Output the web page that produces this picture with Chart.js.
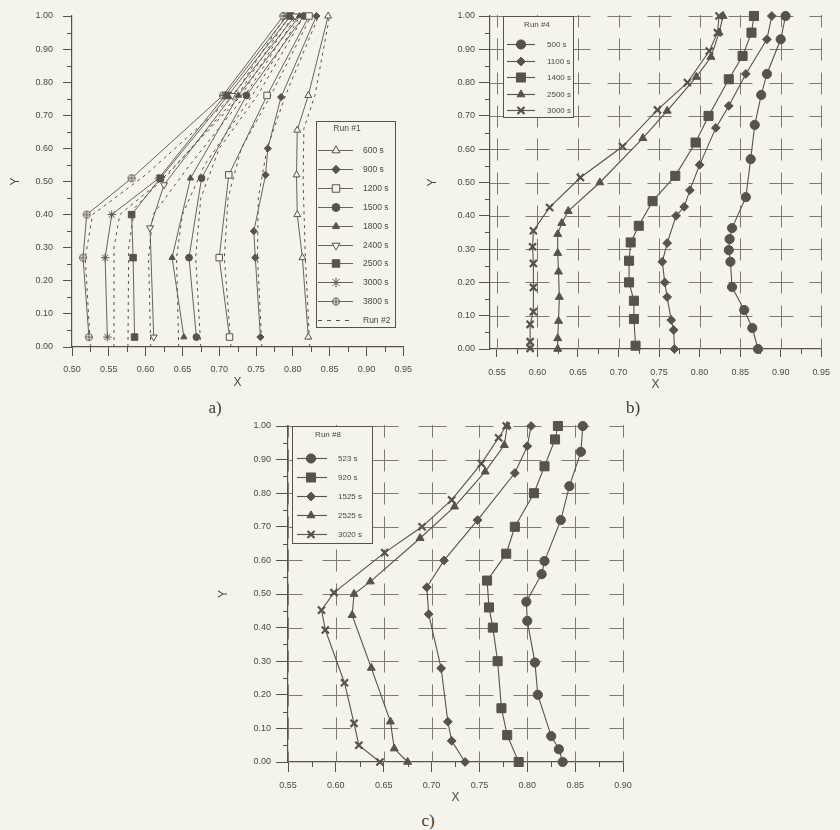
<!DOCTYPE html>
<html>
<head>
<meta charset="utf-8">
<script src="https://cdn.jsdelivr.net/npm/chart.js@4.4.0/dist/chart.umd.min.js"></script>
<style>
  body { margin: 0; background: #f4f4ec; width: 840px; height: 830px; position: relative; overflow: hidden; }
  canvas { position: absolute; }
  .cap { position: absolute; font-family: "Liberation Serif", "DejaVu Serif", serif; font-size: 17px; color: #3a3834; transform: translate(-50%, -50%); }
</style>
</head>
<body>
<canvas id="chartA" width="420" height="400" style="left:0;top:0"></canvas>
<canvas id="chartB" width="420" height="400" style="left:420px;top:0"></canvas>
<canvas id="chartC" width="430" height="400" style="left:210px;top:410px"></canvas>
<div class="cap" style="left:215px;top:408px">a)</div>
<div class="cap" style="left:633px;top:408px">b)</div>
<div class="cap" style="left:428px;top:821px">c)</div>
<script>
const INK = '#56534c';
const TXT = '#4b4843';
const BG = '#f4f4ec';
const FONT = '"Liberation Sans", Arial, sans-serif';

// tick values
const yTicks = [0, 0.1, 0.2, 0.3, 0.4, 0.5, 0.6, 0.7, 0.8, 0.9, 1.0];
const xTicksA = [0.50, 0.55, 0.60, 0.65, 0.70, 0.75, 0.80, 0.85, 0.90, 0.95];
const xTicksB = [0.55, 0.60, 0.65, 0.70, 0.75, 0.80, 0.85, 0.90, 0.95];
const xTicksC = [0.55, 0.60, 0.65, 0.70, 0.75, 0.80, 0.85, 0.90];

// Run #1 (panel a), points as [X, Y]
const labelsA = ['600 s', '900 s', '1200 s', '1500 s', '1800 s', '2400 s', '2500 s', '3000 s', '3800 s'];
const a600  = [[0.821,0.03],[0.813,0.27],[0.806,0.40],[0.805,0.52],[0.806,0.655],[0.821,0.76],[0.848,1.00]];
const a900  = [[0.756,0.03],[0.749,0.27],[0.747,0.35],[0.763,0.52],[0.766,0.60],[0.784,0.755],[0.832,1.00]];
const a1200 = [[0.714,0.03],[0.700,0.27],[0.713,0.52],[0.765,0.76],[0.822,1.00]];
const a1500 = [[0.669,0.03],[0.659,0.27],[0.676,0.51],[0.737,0.76],[0.815,1.00]];
const a1800 = [[0.652,0.03],[0.636,0.27],[0.661,0.51],[0.726,0.76],[0.809,1.00]];
const a2400 = [[0.611,0.03],[0.606,0.36],[0.625,0.49],[0.718,0.76],[0.803,1.00]];
const a2500 = [[0.585,0.03],[0.583,0.27],[0.581,0.40],[0.620,0.51],[0.712,0.76],[0.797,1.00]];
const a3000 = [[0.548,0.03],[0.545,0.27],[0.554,0.40],[0.618,0.51],[0.708,0.76],[0.792,1.00]];
const a3800 = [[0.523,0.03],[0.515,0.27],[0.520,0.40],[0.581,0.51],[0.705,0.76],[0.787,1.00]];

// Run #2 (dashed, panel a)
const r2a = [[0.525,0.00],[0.518,0.27],[0.528,0.40],[0.600,0.52],[0.720,0.76],[0.790,1.00]];
const r2b = [[0.557,0.00],[0.557,0.30],[0.565,0.40],[0.630,0.52],[0.725,0.76],[0.795,1.00]];
const r2c = [[0.576,0.00],[0.577,0.30],[0.585,0.42],[0.645,0.56],[0.730,0.76],[0.800,1.00]];
const r2d = [[0.607,0.00],[0.604,0.27],[0.610,0.40],[0.660,0.55],[0.735,0.76],[0.805,1.00]];
const r2e = [[0.645,0.00],[0.642,0.27],[0.650,0.40],[0.680,0.55],[0.745,0.76],[0.810,1.00]];
const r2f = [[0.675,0.00],[0.668,0.27],[0.675,0.45],[0.700,0.60],[0.752,0.76],[0.815,1.00]];
const r2g = [[0.716,0.00],[0.707,0.27],[0.712,0.45],[0.730,0.60],[0.770,0.76],[0.825,1.00]];
const r2h = [[0.758,0.00],[0.752,0.27],[0.753,0.45],[0.765,0.60],[0.790,0.76],[0.835,1.00]];
const r2i = [[0.823,0.00],[0.817,0.27],[0.814,0.50],[0.815,0.66],[0.830,0.76],[0.850,1.00]];

// Run #4 (panel b)
const labelsB = ['500 s', '1100 s', '1400 s', '2500 s', '3000 s'];
const b500  = [[0.872,0.00],[0.865,0.063],[0.855,0.117],[0.840,0.186],[0.838,0.262],[0.836,0.297],[0.837,0.330],[0.840,0.363],[0.857,0.456],[0.863,0.57],[0.868,0.673],[0.876,0.763],[0.883,0.826],[0.900,0.93],[0.906,1.00]];
const b1100 = [[0.769,0.00],[0.768,0.057],[0.765,0.087],[0.760,0.156],[0.757,0.200],[0.754,0.262],[0.760,0.318],[0.771,0.40],[0.781,0.427],[0.788,0.477],[0.800,0.553],[0.820,0.664],[0.836,0.73],[0.857,0.826],[0.883,0.93],[0.889,1.00]];
const b1400 = [[0.721,0.01],[0.719,0.09],[0.719,0.145],[0.713,0.20],[0.713,0.265],[0.715,0.32],[0.725,0.37],[0.742,0.444],[0.770,0.52],[0.795,0.62],[0.811,0.70],[0.836,0.81],[0.853,0.88],[0.864,0.95],[0.867,1.00]];
const b2500 = [[0.625,0.00],[0.625,0.032],[0.626,0.084],[0.627,0.156],[0.626,0.232],[0.625,0.288],[0.625,0.345],[0.630,0.378],[0.638,0.414],[0.677,0.50],[0.730,0.633],[0.760,0.715],[0.796,0.817],[0.814,0.877],[0.824,0.95],[0.829,1.00]];
const b3000 = [[0.591,0.002],[0.591,0.022],[0.591,0.074],[0.595,0.112],[0.595,0.185],[0.595,0.257],[0.594,0.307],[0.595,0.355],[0.615,0.425],[0.653,0.515],[0.705,0.608],[0.748,0.718],[0.785,0.80],[0.812,0.895],[0.822,0.95],[0.824,1.00]];

// Run #8 (panel c)
const labelsC = ['523 s', '920 s', '1525 s', '2525 s', '3020 s'];
const c523  = [[0.837,0.00],[0.833,0.038],[0.825,0.077],[0.811,0.20],[0.808,0.296],[0.800,0.42],[0.799,0.477],[0.815,0.559],[0.818,0.598],[0.835,0.72],[0.844,0.821],[0.856,0.923],[0.858,1.00]];
const c920  = [[0.791,0.00],[0.779,0.08],[0.773,0.16],[0.769,0.30],[0.764,0.40],[0.760,0.46],[0.758,0.54],[0.778,0.62],[0.787,0.70],[0.807,0.80],[0.818,0.88],[0.829,0.96],[0.832,1.00]];
const c1525 = [[0.735,0.00],[0.721,0.063],[0.717,0.12],[0.710,0.279],[0.697,0.44],[0.695,0.52],[0.713,0.60],[0.748,0.72],[0.787,0.86],[0.800,0.94],[0.804,1.00]];
const c2525 = [[0.675,0.00],[0.661,0.04],[0.657,0.12],[0.637,0.28],[0.617,0.437],[0.619,0.50],[0.636,0.537],[0.688,0.666],[0.724,0.76],[0.756,0.864],[0.776,0.943],[0.779,1.00]];
const c3020 = [[0.646,0.00],[0.624,0.05],[0.619,0.115],[0.609,0.236],[0.589,0.393],[0.585,0.452],[0.598,0.504],[0.651,0.623],[0.690,0.70],[0.721,0.78],[0.752,0.888],[0.770,0.965],[0.778,1.00]];

function crossCircle(r) {
  const s = Math.ceil(r * 2 + 3);
  const c = document.createElement('canvas');
  c.width = c.height = s;
  const g = c.getContext('2d');
  const m = s / 2;
  g.strokeStyle = INK; g.lineWidth = 1; g.fillStyle = BG;
  g.beginPath(); g.arc(m, m, r, 0, Math.PI * 2); g.fill(); g.stroke();
  g.beginPath(); g.moveTo(m - r, m); g.lineTo(m + r, m); g.moveTo(m, m - r); g.lineTo(m, m + r); g.stroke();
  return c;
}

function ser(label, pts, style) {
  return Object.assign({
    label: label,
    data: pts.map(p => ({ x: p[0], y: p[1] })),
    showLine: true,
    borderColor: INK,
    borderWidth: 1.1,
    pointBackgroundColor: INK,
    pointBorderColor: INK,
    pointBorderWidth: 1,
    pointRadius: 4.2,
    pointHoverRadius: 4.2,
    tension: 0,
    clip: 10
  }, style);
}

function dashed(pts, first) {
  return ser('Run #2', pts, { borderDash: [3, 4], borderWidth: 1, pointRadius: 0, legendHide: !first });
}

// minor ticks, cross grid and the inside legend
const decor = {
  id: 'decor',
  beforeDatasetsDraw(chart, args, o) {
    if (!o.cross) return;
    const { ctx, chartArea: ca, scales: { x, y } } = chart;
    ctx.save();
    ctx.beginPath(); ctx.rect(ca.left, ca.top - 1, ca.right - ca.left + 1, ca.bottom - ca.top + 1); ctx.clip();
    ctx.strokeStyle = '#7d7a73'; ctx.lineWidth = 1;
    ctx.beginPath();
    o.xTicks.forEach(xv => {
      const px = Math.round(x.getPixelForValue(xv)) + 0.5;
      yTicks.forEach(yv => {
        const py = Math.round(y.getPixelForValue(yv)) + 0.5;
        ctx.moveTo(px - o.cross[0], py); ctx.lineTo(px + o.cross[0], py);
        ctx.moveTo(px, py - o.cross[1]); ctx.lineTo(px, py + o.cross[1]);
      });
    });
    ctx.stroke();
    ctx.restore();
  },
  afterDraw(chart, args, o) {
    const { ctx, chartArea: ca, scales: { x, y } } = chart;
    ctx.save();
    ctx.strokeStyle = INK; ctx.lineWidth = 1;
    ctx.beginPath();
    for (let i = 0; i < o.xTicks.length - 1; i++) {
      const px = Math.round(x.getPixelForValue((o.xTicks[i] + o.xTicks[i + 1]) / 2)) + 0.5;
      ctx.moveTo(px, ca.bottom); ctx.lineTo(px, ca.bottom + 5);
    }
    for (let i = 0; i < yTicks.length - 1; i++) {
      const py = Math.round(y.getPixelForValue((yTicks[i] + yTicks[i + 1]) / 2)) + 0.5;
      ctx.moveTo(ca.left, py); ctx.lineTo(ca.left - 5, py);
    }
    ctx.stroke();

    const L = o.legend;
    const [bx, by, bw, bh] = L.box;
    ctx.fillStyle = BG; ctx.fillRect(bx, by, bw, bh);
    ctx.strokeStyle = INK; ctx.lineWidth = 1; ctx.strokeRect(bx + 0.5, by + 0.5, bw, bh);
    ctx.fillStyle = TXT; ctx.font = L.font + 'px ' + FONT;
    ctx.textAlign = 'center'; ctx.textBaseline = 'middle';
    ctx.fillText(L.title, L.titleX, L.titleY);
    let row = 0;
    chart.data.datasets.forEach(d => {
      if (d.legendHide) return;
      const yy = Math.round(L.rowY + row * L.rowStep) + 0.5;
      row++;
      ctx.strokeStyle = d.borderColor; ctx.lineWidth = d.borderWidth;
      ctx.setLineDash(d.borderDash ? [4, 5] : []);
      ctx.beginPath(); ctx.moveTo(L.lineX[0], yy); ctx.lineTo(L.lineX[1], yy); ctx.stroke();
      ctx.setLineDash([]);
      if (d.pointRadius > 0 && Chart.helpers && Chart.helpers.drawPoint) {
        ctx.fillStyle = d.pointBackgroundColor; ctx.strokeStyle = d.pointBorderColor;
        ctx.lineWidth = d.pointBorderWidth;
        Chart.helpers.drawPoint(ctx, { pointStyle: d.pointStyle || 'circle', rotation: d.rotation || 0, radius: (L.markScale || 1) * d.pointRadius, borderWidth: d.pointBorderWidth }, L.markX, yy);
      }
      ctx.fillStyle = TXT; ctx.textAlign = 'left';
      ctx.fillText(d.label, L.textX, yy);
    });
    ctx.restore();
  }
};

function xScale(ticks, min, max, h, tickLen, pad, titlePad) {
  return {
    type: 'linear', min: min, max: max,
    afterBuildTicks: s => { s.ticks = ticks.map(v => ({ value: v })); },
    afterFit: s => { s.height = h; },
    grid: { drawOnChartArea: false, drawTicks: true, tickLength: tickLen, tickColor: INK, tickWidth: 1 },
    border: { color: INK, width: 1.2 },
    ticks: { padding: pad, color: TXT, autoSkip: false, maxRotation: 0, font: { family: FONT, size: 9 }, callback: v => v.toFixed(2) },
    title: { display: true, text: 'X', color: TXT, font: { family: FONT, size: 12 }, padding: { top: 0, bottom: titlePad } }
  };
}

function yScale(w, tickLen, pad, titlePad) {
  return {
    type: 'linear', min: 0, max: 1,
    afterBuildTicks: s => { s.ticks = yTicks.map(v => ({ value: v })); },
    afterFit: s => { s.width = w; },
    grid: { drawOnChartArea: false, drawTicks: true, tickLength: tickLen, tickColor: INK, tickWidth: 1 },
    border: { color: INK, width: 1.2 },
    ticks: { padding: pad, color: TXT, autoSkip: false, font: { family: FONT, size: 9 }, callback: v => v.toFixed(2) },
    title: { display: true, text: 'Y', color: TXT, font: { family: FONT, size: 12 }, padding: { top: titlePad, bottom: 0 } }
  };
}

function baseOptions(pad, xs, ys, decorOpts) {
  return {
    responsive: false,
    animation: false,
    events: [],
    layout: { padding: pad },
    plugins: { legend: { display: false }, tooltip: { enabled: false }, decor: decorOpts },
    scales: { x: xs, y: ys }
  };
}

const openStyle = { pointBackgroundColor: BG };

// panel a
const dsA = [
  ser(labelsA[0], a600,  Object.assign({ pointStyle: 'triangle', pointRadius: 4 }, openStyle)),
  ser(labelsA[1], a900,  { pointStyle: 'rectRot', pointRadius: 3.6 }),
  ser(labelsA[2], a1200, Object.assign({ pointStyle: 'rect', pointRadius: 4.6 }, openStyle)),
  ser(labelsA[3], a1500, { pointStyle: 'circle', pointRadius: 3.4 }),
  ser(labelsA[4], a1800, { pointStyle: 'triangle', pointRadius: 3.6 }),
  ser(labelsA[5], a2400, Object.assign({ pointStyle: 'triangle', rotation: 180, pointRadius: 4 }, openStyle)),
  ser(labelsA[6], a2500, { pointStyle: 'rect', pointRadius: 4.6 }),
  ser(labelsA[7], a3000, { pointStyle: 'star', pointRadius: 4.2 }),
  ser(labelsA[8], a3800, { pointStyle: crossCircle(3.5), pointRadius: 3.5 }),
  dashed(r2a, true), dashed(r2b), dashed(r2c), dashed(r2d), dashed(r2e),
  dashed(r2f), dashed(r2g), dashed(r2h), dashed(r2i)
];
dsA.forEach(d => { d.borderWidth = d.borderDash ? 1 : 0.9; });

new Chart(document.getElementById('chartA'), {
  type: 'scatter',
  data: { datasets: dsA },
  plugins: [decor],
  options: baseOptions({ left: 0, top: 16, right: 15, bottom: 0 },
    xScale(xTicksA, 0.50, 0.95, 53, 9, 8, 10),
    yScale(72, 9, 10, 8),
    { xTicks: xTicksA, cross: null,
      legend: { box: [316, 121, 79, 206], title: 'Run #1', titleX: 347, titleY: 129, rowY: 150, rowStep: 18.9,
        lineX: [318, 353], markX: 336, textX: 363, font: 8.5, markScale: 1.15 } })
});

// panel b
const dsB = [
  ser(labelsB[0], b500,  { pointStyle: 'circle', pointRadius: 4.6 }),
  ser(labelsB[1], b1100, { pointStyle: 'rectRot', pointRadius: 4.4 }),
  ser(labelsB[2], b1400, { pointStyle: 'rect', pointRadius: 6.4 }),
  ser(labelsB[3], b2500, { pointStyle: 'triangle', pointRadius: 4.6 }),
  ser(labelsB[4], b3000, { pointStyle: 'crossRot', pointRadius: 5, pointBorderWidth: 2.2 })
];

new Chart(document.getElementById('chartB'), {
  type: 'scatter',
  data: { datasets: dsB },
  plugins: [decor],
  options: baseOptions({ left: 0, top: 16, right: 12, bottom: 0 },
    xScale(xTicksB, 0.5415, 0.95, 51, 8, 10, 8.4),
    yScale(70, 11, 4, 5.4),
    { xTicks: xTicksB, cross: [12, 11],
      legend: { box: [83, 16, 70, 101], title: 'Run #4', titleX: 117, titleY: 25, rowY: 44, rowStep: 16.5,
        lineX: [87, 115], markX: 101, textX: 127, font: 8 } })
});

// panel c
const dsC = [
  ser(labelsC[0], c523,  { pointStyle: 'circle', pointRadius: 4.6 }),
  ser(labelsC[1], c920,  { pointStyle: 'rect', pointRadius: 6.4 }),
  ser(labelsC[2], c1525, { pointStyle: 'rectRot', pointRadius: 4.4 }),
  ser(labelsC[3], c2525, { pointStyle: 'triangle', pointRadius: 4.6 }),
  ser(labelsC[4], c3020, { pointStyle: 'crossRot', pointRadius: 5, pointBorderWidth: 2.2 })
];

new Chart(document.getElementById('chartC'), {
  type: 'scatter',
  data: { datasets: dsC },
  plugins: [decor],
  options: baseOptions({ left: 0, top: 16, right: 17, bottom: 0 },
    xScale(xTicksC, 0.55, 0.90, 48, 10, 8, 5.4),
    yScale(78, 12, 5, 6.4),
    { xTicks: xTicksC, cross: [14, 11],
      legend: { box: [82, 16, 80, 117], title: 'Run #8', titleX: 118, titleY: 25, rowY: 48, rowStep: 19,
        lineX: [87, 117], markX: 101, textX: 128, font: 8 } })
});
</script>
</body>
</html>
